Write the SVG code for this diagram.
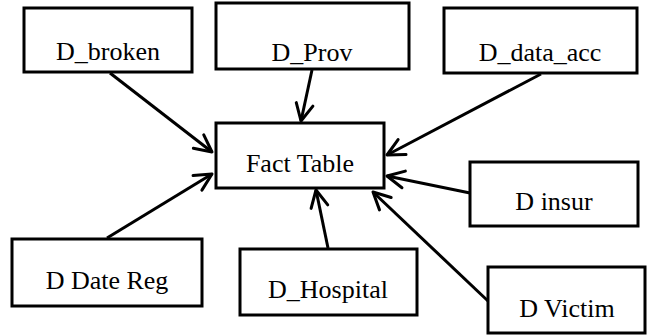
<svg xmlns="http://www.w3.org/2000/svg" width="647" height="336" viewBox="0 0 647 336">
<style>
.box{fill:#fff;stroke:#000;stroke-width:3}
.lbl{font-family:"Liberation Serif","Times New Roman",serif;font-size:26px;fill:#000;text-anchor:middle}
.con{stroke:#000;stroke-width:3;fill:none;marker-end:url(#arr)}
</style>
<defs>
<marker id="arr" markerUnits="userSpaceOnUse" viewBox="-20 -11 22 22" markerWidth="22" markerHeight="22" refX="0" refY="0" orient="auto">
<path d="M-17,-8.5 L0,0 L-17,8.5" fill="none" stroke="#000" stroke-width="3" stroke-linejoin="round" stroke-linecap="round"/>
</marker>
</defs>
<rect width="647" height="336" fill="#fff"/>
<g id="connectors">
<line class="con" x1="110" y1="73" x2="212" y2="152"/>
<line class="con" x1="312" y1="70" x2="301" y2="121"/>
<line class="con" x1="541" y1="74" x2="387" y2="155"/>
<line class="con" x1="470" y1="193" x2="387" y2="176"/>
<line class="con" x1="488" y1="301" x2="373" y2="192"/>
<line class="con" x1="328" y1="248" x2="316" y2="190"/>
<line class="con" x1="107" y1="238" x2="212" y2="174"/>
</g>
<g id="fact">
<rect class="box" x="216" y="123" width="168" height="65"/>
<text class="lbl" x="300" y="172">Fact Table</text>
</g>
<g id="d_broken">
<rect class="box" x="24" y="8" width="168" height="64"/>
<text class="lbl" x="108" y="60">D_broken</text>
</g>
<g id="d_prov">
<rect class="box" x="216" y="3" width="193" height="66"/>
<text class="lbl" x="312" y="61">D_Prov</text>
</g>
<g id="d_data_acc">
<rect class="box" x="444" y="8" width="193" height="65"/>
<text class="lbl" x="540" y="61">D_data_acc</text>
</g>
<g id="d_insur">
<rect class="box" x="470" y="162" width="168" height="64"/>
<text class="lbl" x="554" y="210">D insur</text>
</g>
<g id="d_victim">
<rect class="box" x="488" y="267" width="157" height="66"/>
<text class="lbl" x="567" y="317">D Victim</text>
</g>
<g id="d_hospital">
<rect class="box" x="240" y="249" width="177" height="66"/>
<text class="lbl" x="328" y="298">D_Hospital</text>
</g>
<g id="d_date_reg">
<rect class="box" x="12" y="239" width="190" height="67"/>
<text class="lbl" x="107" y="289">D Date Reg</text>
</g>
</svg>
